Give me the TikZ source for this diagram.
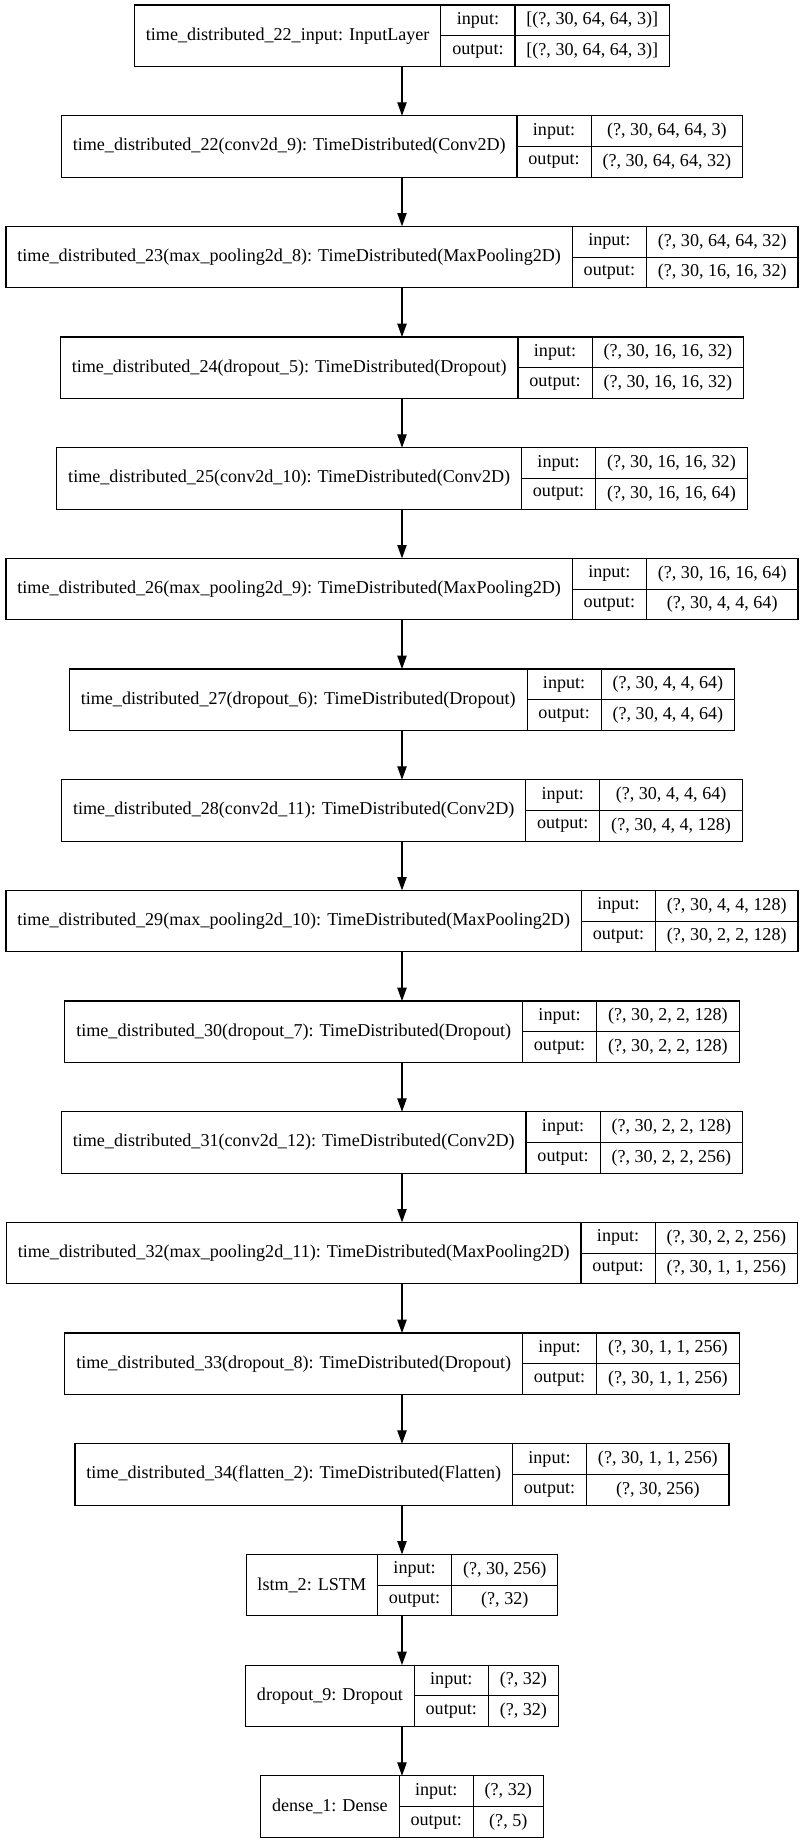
\documentclass[tikz,border=0pt]{standalone}
\usepackage{fontspec}
\setmainfont{Liberation Serif}
\usetikzlibrary{arrows.meta}

% cell measurements
\newlength\lw \newlength\iw \newlength\vw \newlength\vtmp \newlength\tw
\newlength\padx \setlength\padx{8.55pt}
\newcommand\kfont{\fontsize{13.58}{16}\selectfont}

\tikzset{
  layerbox/.style={draw=black, line width=0.85pt, inner sep=0pt, outer sep=0pt,
    minimum height=46.125pt, anchor=north west},
  cellfull/.style={inner sep=0pt, outer sep=0pt, minimum height=46.125pt,
    anchor=north west, font=\kfont},
  cellhalf/.style={inner sep=0pt, outer sep=0pt, minimum height=23.0625pt,
    anchor=north west, font=\kfont},
  rule/.style={line width=0.85pt, black},
  flow/.style={line width=0.85pt, black, -{Triangle[length=10pt, width=7pt]}},
}

% measure the three columns of a layer and keep them globally
% #1 node name, #2 row index, #3 layer title, #4 input shape, #5 output shape
\newcommand\measurelayer[5]{%
  \settowidth\lw{\kfont #3}\addtolength\lw{2\padx}%
  \settowidth\iw{\kfont output:}\addtolength\iw{2\padx}%
  \settowidth\vw{\kfont #4}\settowidth\vtmp{\kfont #5}%
  \ifdim\vtmp>\vw \vw=\vtmp\fi
  \addtolength\vw{2\padx}%
  \expandafter\xdef\csname wl#1\endcsname{\the\lw}%
  \expandafter\xdef\csname wi#1\endcsname{\the\iw}%
  \expandafter\xdef\csname wv#1\endcsname{\the\vw}%
}

% draw a layer as a three-column record centred on the common axis
\newcommand\drawlayer[5]{%
  \setlength\lw{\csname wl#1\endcsname}%
  \setlength\iw{\csname wi#1\endcsname}%
  \setlength\vw{\csname wv#1\endcsname}%
  \tw=\lw \advance\tw\iw \advance\tw\vw
  \pgfmathsetlengthmacro\lx{301.5pt-0.5*\tw}%
  \pgfmathsetlengthmacro\ty{-(5+110.67*#2)*0.75pt}%
  \node[layerbox, minimum width=\tw] (#1) at (\lx,\ty) {};
  \node[cellfull, minimum width=\lw] (#1-t) at (#1.north west) {#3};
  \node[cellhalf, minimum width=\iw] (#1-i) at (#1-t.north east) {input:};
  \node[cellhalf, minimum width=\iw] (#1-o) at (#1-i.south west) {output:};
  \node[cellhalf, minimum width=\vw] (#1-iv) at (#1-i.north east) {#4};
  \node[cellhalf, minimum width=\vw] (#1-ov) at (#1-o.north east) {#5};
  \draw[rule] (#1-t.north east) -- (#1-t.south east);
  \draw[rule] (#1-i.north east) -- (#1-o.south east);
  \draw[rule] (#1-i.south west) -- (#1-iv.south east);
}

\newcommand\alllayers{%
\onelayer{L0}{0}{time\_distributed\_22\_input: InputLayer}{[(?, 30, 64, 64, 3)]}{[(?, 30, 64, 64, 3)]}%
\onelayer{L1}{1}{time\_distributed\_22(conv2d\_9): TimeDistributed(Conv2D)}{(?, 30, 64, 64, 3)}{(?, 30, 64, 64, 32)}%
\onelayer{L2}{2}{time\_distributed\_23(max\_pooling2d\_8): TimeDistributed(MaxPooling2D)}{(?, 30, 64, 64, 32)}{(?, 30, 16, 16, 32)}%
\onelayer{L3}{3}{time\_distributed\_24(dropout\_5): TimeDistributed(Dropout)}{(?, 30, 16, 16, 32)}{(?, 30, 16, 16, 32)}%
\onelayer{L4}{4}{time\_distributed\_25(conv2d\_10): TimeDistributed(Conv2D)}{(?, 30, 16, 16, 32)}{(?, 30, 16, 16, 64)}%
\onelayer{L5}{5}{time\_distributed\_26(max\_pooling2d\_9): TimeDistributed(MaxPooling2D)}{(?, 30, 16, 16, 64)}{(?, 30, 4, 4, 64)}%
\onelayer{L6}{6}{time\_distributed\_27(dropout\_6): TimeDistributed(Dropout)}{(?, 30, 4, 4, 64)}{(?, 30, 4, 4, 64)}%
\onelayer{L7}{7}{time\_distributed\_28(conv2d\_11): TimeDistributed(Conv2D)}{(?, 30, 4, 4, 64)}{(?, 30, 4, 4, 128)}%
\onelayer{L8}{8}{time\_distributed\_29(max\_pooling2d\_10): TimeDistributed(MaxPooling2D)}{(?, 30, 4, 4, 128)}{(?, 30, 2, 2, 128)}%
\onelayer{L9}{9}{time\_distributed\_30(dropout\_7): TimeDistributed(Dropout)}{(?, 30, 2, 2, 128)}{(?, 30, 2, 2, 128)}%
\onelayer{L10}{10}{time\_distributed\_31(conv2d\_12): TimeDistributed(Conv2D)}{(?, 30, 2, 2, 128)}{(?, 30, 2, 2, 256)}%
\onelayer{L11}{11}{time\_distributed\_32(max\_pooling2d\_11): TimeDistributed(MaxPooling2D)}{(?, 30, 2, 2, 256)}{(?, 30, 1, 1, 256)}%
\onelayer{L12}{12}{time\_distributed\_33(dropout\_8): TimeDistributed(Dropout)}{(?, 30, 1, 1, 256)}{(?, 30, 1, 1, 256)}%
\onelayer{L13}{13}{time\_distributed\_34(flatten\_2): TimeDistributed(Flatten)}{(?, 30, 1, 1, 256)}{(?, 30, 256)}%
\onelayer{L14}{14}{lstm\_2: LSTM}{(?, 30, 256)}{(?, 32)}%
\onelayer{L15}{15}{dropout\_9: Dropout}{(?, 32)}{(?, 32)}%
\onelayer{L16}{16}{dense\_1: Dense}{(?, 32)}{(?, 5)}%
}

\begin{document}
\setbox0=\vbox{\let\onelayer\measurelayer \alllayers}%
\begin{tikzpicture}[x=0.75pt, y=-0.75pt]
\useasboundingbox (0,0) rectangle (804,1844);

\let\onelayer\drawlayer
\alllayers

% connectors between consecutive layers
\foreach \a/\b in {L0/L1, L1/L2, L2/L3, L3/L4, L4/L5, L5/L6, L6/L7, L7/L8,
                   L8/L9, L9/L10, L10/L11, L11/L12, L12/L13, L13/L14, L14/L15, L15/L16}
  \draw[flow] (\a.south) -- (\b.north);
\end{tikzpicture}
\end{document}
